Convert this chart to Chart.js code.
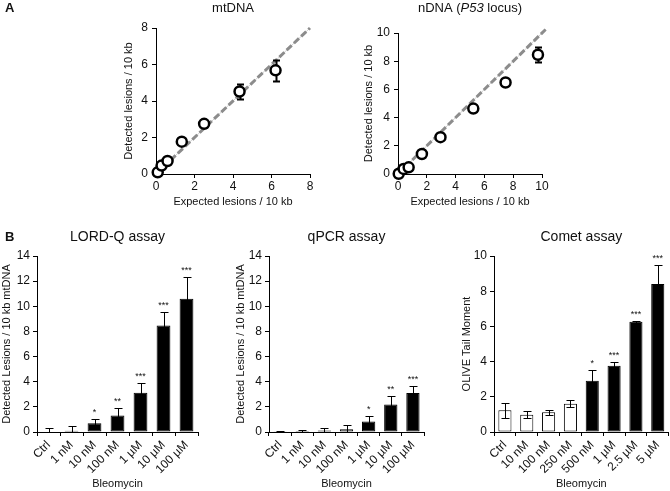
<!DOCTYPE html>
<html>
<head>
<meta charset="utf-8">
<title>Bleomycin lesion assays</title>
<script src="https://cdn.jsdelivr.net/npm/chart.js@4.4.1/dist/chart.umd.min.js"></script>
<style>
  html, body { margin: 0; padding: 0; background: #fff; overflow: hidden; }
  body { position: relative; width: 670px; height: 491px; }
  canvas { position: absolute; }
</style>
</head>
<body>
<canvas id="chart-mt" width="335" height="215"></canvas>
<canvas id="chart-n" width="335" height="215"></canvas>
<canvas id="chart-lordq" width="225" height="269"></canvas>
<canvas id="chart-qpcr" width="225" height="269"></canvas>
<canvas id="chart-comet" width="220" height="269"></canvas>
<script>
// ---- Panel A: mtDNA ----
const mtExpected = [0.09, 0.29, 0.60, 1.34, 2.50, 4.34, 6.21];
const mtDetected = [0.09, 0.46, 0.71, 1.77, 2.75, 4.52, 5.68];
const mtError = [0.05, 0.08, 0.08, 0.15, 0.15, 0.42, 0.57];
const mtLine = [0, 8];
const mtTicks = [0, 2, 4, 6, 8];

// ---- Panel A: nDNA (P53 locus) ----
const nExpected = [0.05, 0.39, 0.74, 1.66, 2.95, 5.23, 7.47, 9.72];
const nDetected = [0.02, 0.36, 0.47, 1.42, 2.61, 4.64, 6.49, 8.46];
const nError = [0.03, 0.05, 0.05, 0.10, 0.12, 0.12, 0.10, 0.52];
const nLine = [0, 10.25];
const nTicks = [0, 2, 4, 6, 8, 10];

// ---- Panel B: LORD-Q ----
const lordLabels = ['Ctrl', '1 nM', '10 nM', '100 nM', '1 µM', '10 µM', '100 µM'];
const lordValues = [0, 0.1, 0.7, 1.32, 3.13, 8.47, 10.6];
const lordErrors = [0.35, 0.35, 0.33, 0.6, 0.73, 1.05, 1.75];
const lordStars = ['', '', '*', '**', '***', '***', '***'];
const lordTreated = [0, 0, 1, 1, 1, 1, 1];

// ---- Panel B: qPCR ----
const qpcrLabels = ['Ctrl', '1 nM', '10 nM', '100 nM', '1 µM', '10 µM', '100 µM'];
const qpcrValues = [0.02, 0.08, 0.12, 0.21, 0.84, 2.19, 3.11];
const qpcrErrors = [0.05, 0.06, 0.18, 0.33, 0.47, 0.66, 0.58];
const qpcrStars = ['', '', '', '', '*', '**', '***'];
const qpcrTreated = [0, 0, 0, 0, 1, 1, 1];
const lesionTicks = [0, 2, 4, 6, 8, 10, 12, 14];

// ---- Panel B: Comet ----
const cometLabels = ['Ctrl', '10 nM', '100 nM', '250 nM', '500 nM', '1 µM', '2.5 µM', '5 µM'];
const cometValues = [1.23, 0.98, 1.12, 1.61, 2.91, 3.76, 6.26, 8.41];
const cometErrors = [0.42, 0.2, 0.15, 0.19, 0.59, 0.19, 0.07, 1.08];
const cometStars = ['', '', '', '', '*', '***', '***', '***'];
const cometTreated = [0, 0, 0, 0, 1, 1, 1, 1];
const cometTicks = [0, 2, 4, 6, 8, 10];

const FONT = '"Liberation Sans", Arial, Helvetica, sans-serif';
const INK = '#111';

// error bars read from dataset.errors, drawn under or over the dataset
function drawErrors(chart, meta, ds) {
    const ctx = chart.ctx;
    const y = chart.scales.y;
    const half = (ds.capWidth || 8) / 2;
    ctx.save();
    ctx.strokeStyle = '#000';
    ctx.lineWidth = ds.errorLineWidth || 1;
    meta.data.forEach((el, i) => {
        const e = ds.errors[i];
        if (!e) return;
        const raw = ds.data[i];
        const v = typeof raw === 'object' ? raw.y : raw;
        const x = Math.round(el.x) + 0.5;
        const top = Math.round(y.getPixelForValue(v + e)) + 0.5;
        const bot = Math.round(y.getPixelForValue(Math.max(v - e, y.min))) + 0.5;
        ctx.beginPath();
        ctx.moveTo(x, top); ctx.lineTo(x, bot);
        ctx.moveTo(x - half, top); ctx.lineTo(x + half, top);
        ctx.moveTo(x - half, bot); ctx.lineTo(x + half, bot);
        ctx.stroke();
    });
    ctx.restore();
}

const errorBars = {
    id: 'errorBars',
    beforeDatasetDraw(chart, args) {
        const ds = chart.data.datasets[args.index];
        if (ds.errors && ds.errorLayer === 'under') drawErrors(chart, args.meta, ds);
    },
    afterDatasetDraw(chart, args) {
        const ds = chart.data.datasets[args.index];
        if (ds.errors && ds.errorLayer !== 'under') drawErrors(chart, args.meta, ds);
    }
};

// significance asterisks above the error bars
const stars = {
    id: 'stars',
    afterDatasetsDraw(chart) {
        const ctx = chart.ctx;
        const y = chart.scales.y;
        chart.data.datasets.forEach((ds, di) => {
            if (!ds.stars) return;
            const meta = chart.getDatasetMeta(di);
            ctx.save();
            ctx.fillStyle = INK;
            ctx.font = `9px ${FONT}`;
            ctx.textAlign = 'center';
            ctx.textBaseline = 'bottom';
            meta.data.forEach((el, i) => {
                if (!ds.stars[i]) return;
                const top = y.getPixelForValue(ds.data[i] + (ds.errors[i] || 0));
                ctx.fillText(ds.stars[i], el.x, top - 2);
            });
            ctx.restore();
        });
    }
};

Chart.register(errorBars, stars);

// panel title (with optional italic parts) and the panel letter
function panelText(t) {
    return {
        id: 'panelText',
        afterDraw(chart) {
            const ctx = chart.ctx;
            const area = chart.chartArea;
            ctx.save();
            ctx.fillStyle = INK;
            ctx.textBaseline = 'middle';
            ctx.textAlign = 'left';
            const fonts = t.parts.map(p => `${p.italic ? 'italic ' : ''}${t.size}px ${FONT}`);
            let total = 0;
            const widths = t.parts.map((p, i) => {
                ctx.font = fonts[i];
                const w = ctx.measureText(p.text).width;
                total += w;
                return w;
            });
            let x = (area.left + area.right) / 2 - total / 2;
            t.parts.forEach((p, i) => {
                ctx.font = fonts[i];
                ctx.fillText(p.text, x, t.y);
                x += widths[i];
            });
            if (t.tag) {
                ctx.font = `bold 13px ${FONT}`;
                ctx.fillText(t.tag, 5, t.y);
            }
            ctx.restore();
        }
    };
}

// place a canvas on the page and work out paddings so the plot area lands where wanted
function frame(id, box, area, padLeft, yTitleX, xTitleY, titleSize) {
    const el = document.getElementById(id);
    el.style.left = box.x + 'px';
    el.style.top = box.y + 'px';
    const lh = titleSize * 1.2;
    const xh = xTitleY + lh / 2 - area.b;
    return {
        yw: area.l - box.x - padLeft,
        xh: xh,
        yTitlePad: yTitleX - (box.x + padLeft) - lh / 2,
        padding: {
            left: padLeft,
            top: area.t - box.y,
            right: box.x + box.w - area.r,
            bottom: box.y + box.h - area.b - xh
        }
    };
}

function axisBase(tickSize) {
    return {
        border: { display: true, color: '#000', width: 1 },
        grid: { drawOnChartArea: false, drawTicks: true, tickLength: 4, color: '#000' },
        ticks: { color: INK, font: { family: FONT, size: tickSize } }
    };
}

function scatterChart(id, f, title, expected, detected, errs, line, ticks, yTitle, xTitle) {
    const points = expected.map((x, i) => ({ x: x, y: detected[i] }));
    const ref = line.map(v => ({ x: v, y: v }));
    const xAxis = axisBase(12);
    const yAxis = axisBase(12);
    return new Chart(document.getElementById(id), {
        type: 'scatter',
        data: {
            datasets: [
                {
                    data: points,
                    errors: errs,
                    errorLayer: 'under',
                    errorLineWidth: 2,
                    capWidth: 7,
                    pointRadius: 5,
                    pointBorderWidth: 2.5,
                    pointBackgroundColor: '#fff',
                    pointBorderColor: '#000',
                    clip: false,
                    order: 0
                },
                {
                    type: 'line',
                    data: ref,
                    borderColor: '#8c8c8c',
                    borderWidth: 3,
                    borderDash: [7, 3],
                    pointRadius: 0,
                    clip: false,
                    order: 1
                },
                {
                    type: 'line',
                    data: ref,
                    borderColor: '#cfcfcf',
                    borderWidth: 1,
                    pointRadius: 0,
                    clip: false,
                    order: 2
                }
            ]
        },
        options: {
            responsive: false,
            animation: false,
            layout: { padding: f.padding },
            plugins: { legend: { display: false }, tooltip: { enabled: false } },
            scales: {
                x: Object.assign(xAxis, {
                    type: 'linear', min: ticks[0], max: ticks[ticks.length - 1],
                    afterBuildTicks: s => { s.ticks = ticks.map(v => ({ value: v })); },
                    afterFit: s => { s.height = f.xh; },
                    ticks: Object.assign(xAxis.ticks, { padding: 1 }),
                    title: { display: true, text: xTitle, color: INK, font: { family: FONT, size: 11 }, padding: { top: 0, bottom: 0 } }
                }),
                y: Object.assign(yAxis, {
                    type: 'linear', min: ticks[0], max: ticks[ticks.length - 1],
                    afterBuildTicks: s => { s.ticks = ticks.map(v => ({ value: v })); },
                    afterFit: s => { s.width = f.yw; },
                    ticks: Object.assign(yAxis.ticks, { padding: 4 }),
                    title: { display: true, text: yTitle, color: INK, font: { family: FONT, size: 11 }, padding: { top: f.yTitlePad, bottom: 0 } }
                })
            }
        },
        plugins: [panelText(title)]
    });
}

function barChart(id, f, title, labels, values, errs, starMarks, treated, ticks, yTitle) {
    const xAxis = axisBase(12);
    const yAxis = axisBase(12);
    return new Chart(document.getElementById(id), {
        type: 'bar',
        data: {
            labels: labels,
            datasets: [{
                data: values,
                errors: errs,
                stars: starMarks,
                capWidth: 8,
                backgroundColor: treated.map(t => t ? '#000' : '#fff'),
                borderColor: '#000',
                borderWidth: 1,
                borderSkipped: false,
                barPercentage: 0.6,
                categoryPercentage: 1
            }]
        },
        options: {
            responsive: false,
            animation: false,
            layout: { padding: f.padding },
            plugins: { legend: { display: false }, tooltip: { enabled: false } },
            scales: {
                x: Object.assign(xAxis, {
                    afterFit: s => { s.height = f.xh; },
                    ticks: Object.assign(xAxis.ticks, { minRotation: 45, maxRotation: 45, autoSkip: false, padding: 2 }),
                    title: { display: true, text: 'Bleomycin', color: INK, font: { family: FONT, size: 11 }, padding: { top: 0, bottom: 0 } }
                }),
                y: Object.assign(yAxis, {
                    min: ticks[0], max: ticks[ticks.length - 1],
                    afterBuildTicks: s => { s.ticks = ticks.map(v => ({ value: v })); },
                    afterFit: s => { s.width = f.yw; },
                    ticks: Object.assign(yAxis.ticks, { padding: 3 }),
                    title: { display: true, text: yTitle, color: INK, font: { family: FONT, size: 11 }, padding: { top: f.yTitlePad, bottom: 0 } }
                })
            }
        },
        plugins: [panelText(title)]
    });
}

// titles per panel (the nDNA one has an italic gene name)
const titleMt = { parts: [{ text: 'mtDNA' }], size: 13, y: 8, tag: 'A' };
const titleN = { parts: [{ text: 'nDNA (' }, { text: 'P53', italic: true }, { text: ' locus)' }], size: 13, y: 8 };
const titleLord = { parts: [{ text: 'LORD-Q assay' }], size: 14, y: 15, tag: 'B' };
const titleQpcr = { parts: [{ text: 'qPCR assay' }], size: 14, y: 15 };
const titleComet = { parts: [{ text: 'Comet assay' }], size: 14, y: 15 };

// ---- build ----
const fMt = frame('chart-mt', { x: 0, y: 0, w: 335, h: 215 }, { l: 156, r: 310, t: 28, b: 174 }, 116, 129, 202, 11);
const fN = frame('chart-n', { x: 335, y: 0, w: 335, h: 215 }, { l: 398, r: 542, t: 33, b: 174 }, 23, 369, 202, 11);
const fLord = frame('chart-lordq', { x: 0, y: 222, w: 225, h: 269 }, { l: 37, r: 198, t: 256, b: 432 }, 0, 7, 484, 11);
const fQpcr = frame('chart-qpcr', { x: 225, y: 222, w: 225, h: 269 }, { l: 269, r: 424, t: 256, b: 432 }, 8, 241, 484, 11);
const fComet = frame('chart-comet', { x: 450, y: 222, w: 220, h: 269 }, { l: 494, r: 669, t: 256, b: 432 }, 10, 467, 484, 11);

scatterChart('chart-mt', fMt, titleMt, mtExpected, mtDetected, mtError, mtLine, mtTicks,
    'Detected lesions / 10 kb', 'Expected lesions / 10 kb');
scatterChart('chart-n', fN, titleN, nExpected, nDetected, nError, nLine, nTicks,
    'Detected lesions / 10 kb', 'Expected lesions / 10 kb');
barChart('chart-lordq', fLord, titleLord, lordLabels, lordValues, lordErrors, lordStars, lordTreated, lesionTicks,
    'Detected Lesions / 10 kb mtDNA');
barChart('chart-qpcr', fQpcr, titleQpcr, qpcrLabels, qpcrValues, qpcrErrors, qpcrStars, qpcrTreated, lesionTicks,
    'Detected Lesions / 10 kb mtDNA');
barChart('chart-comet', fComet, titleComet, cometLabels, cometValues, cometErrors, cometStars, cometTreated, cometTicks,
    'OLIVE Tail Moment');
</script>
</body>
</html>
